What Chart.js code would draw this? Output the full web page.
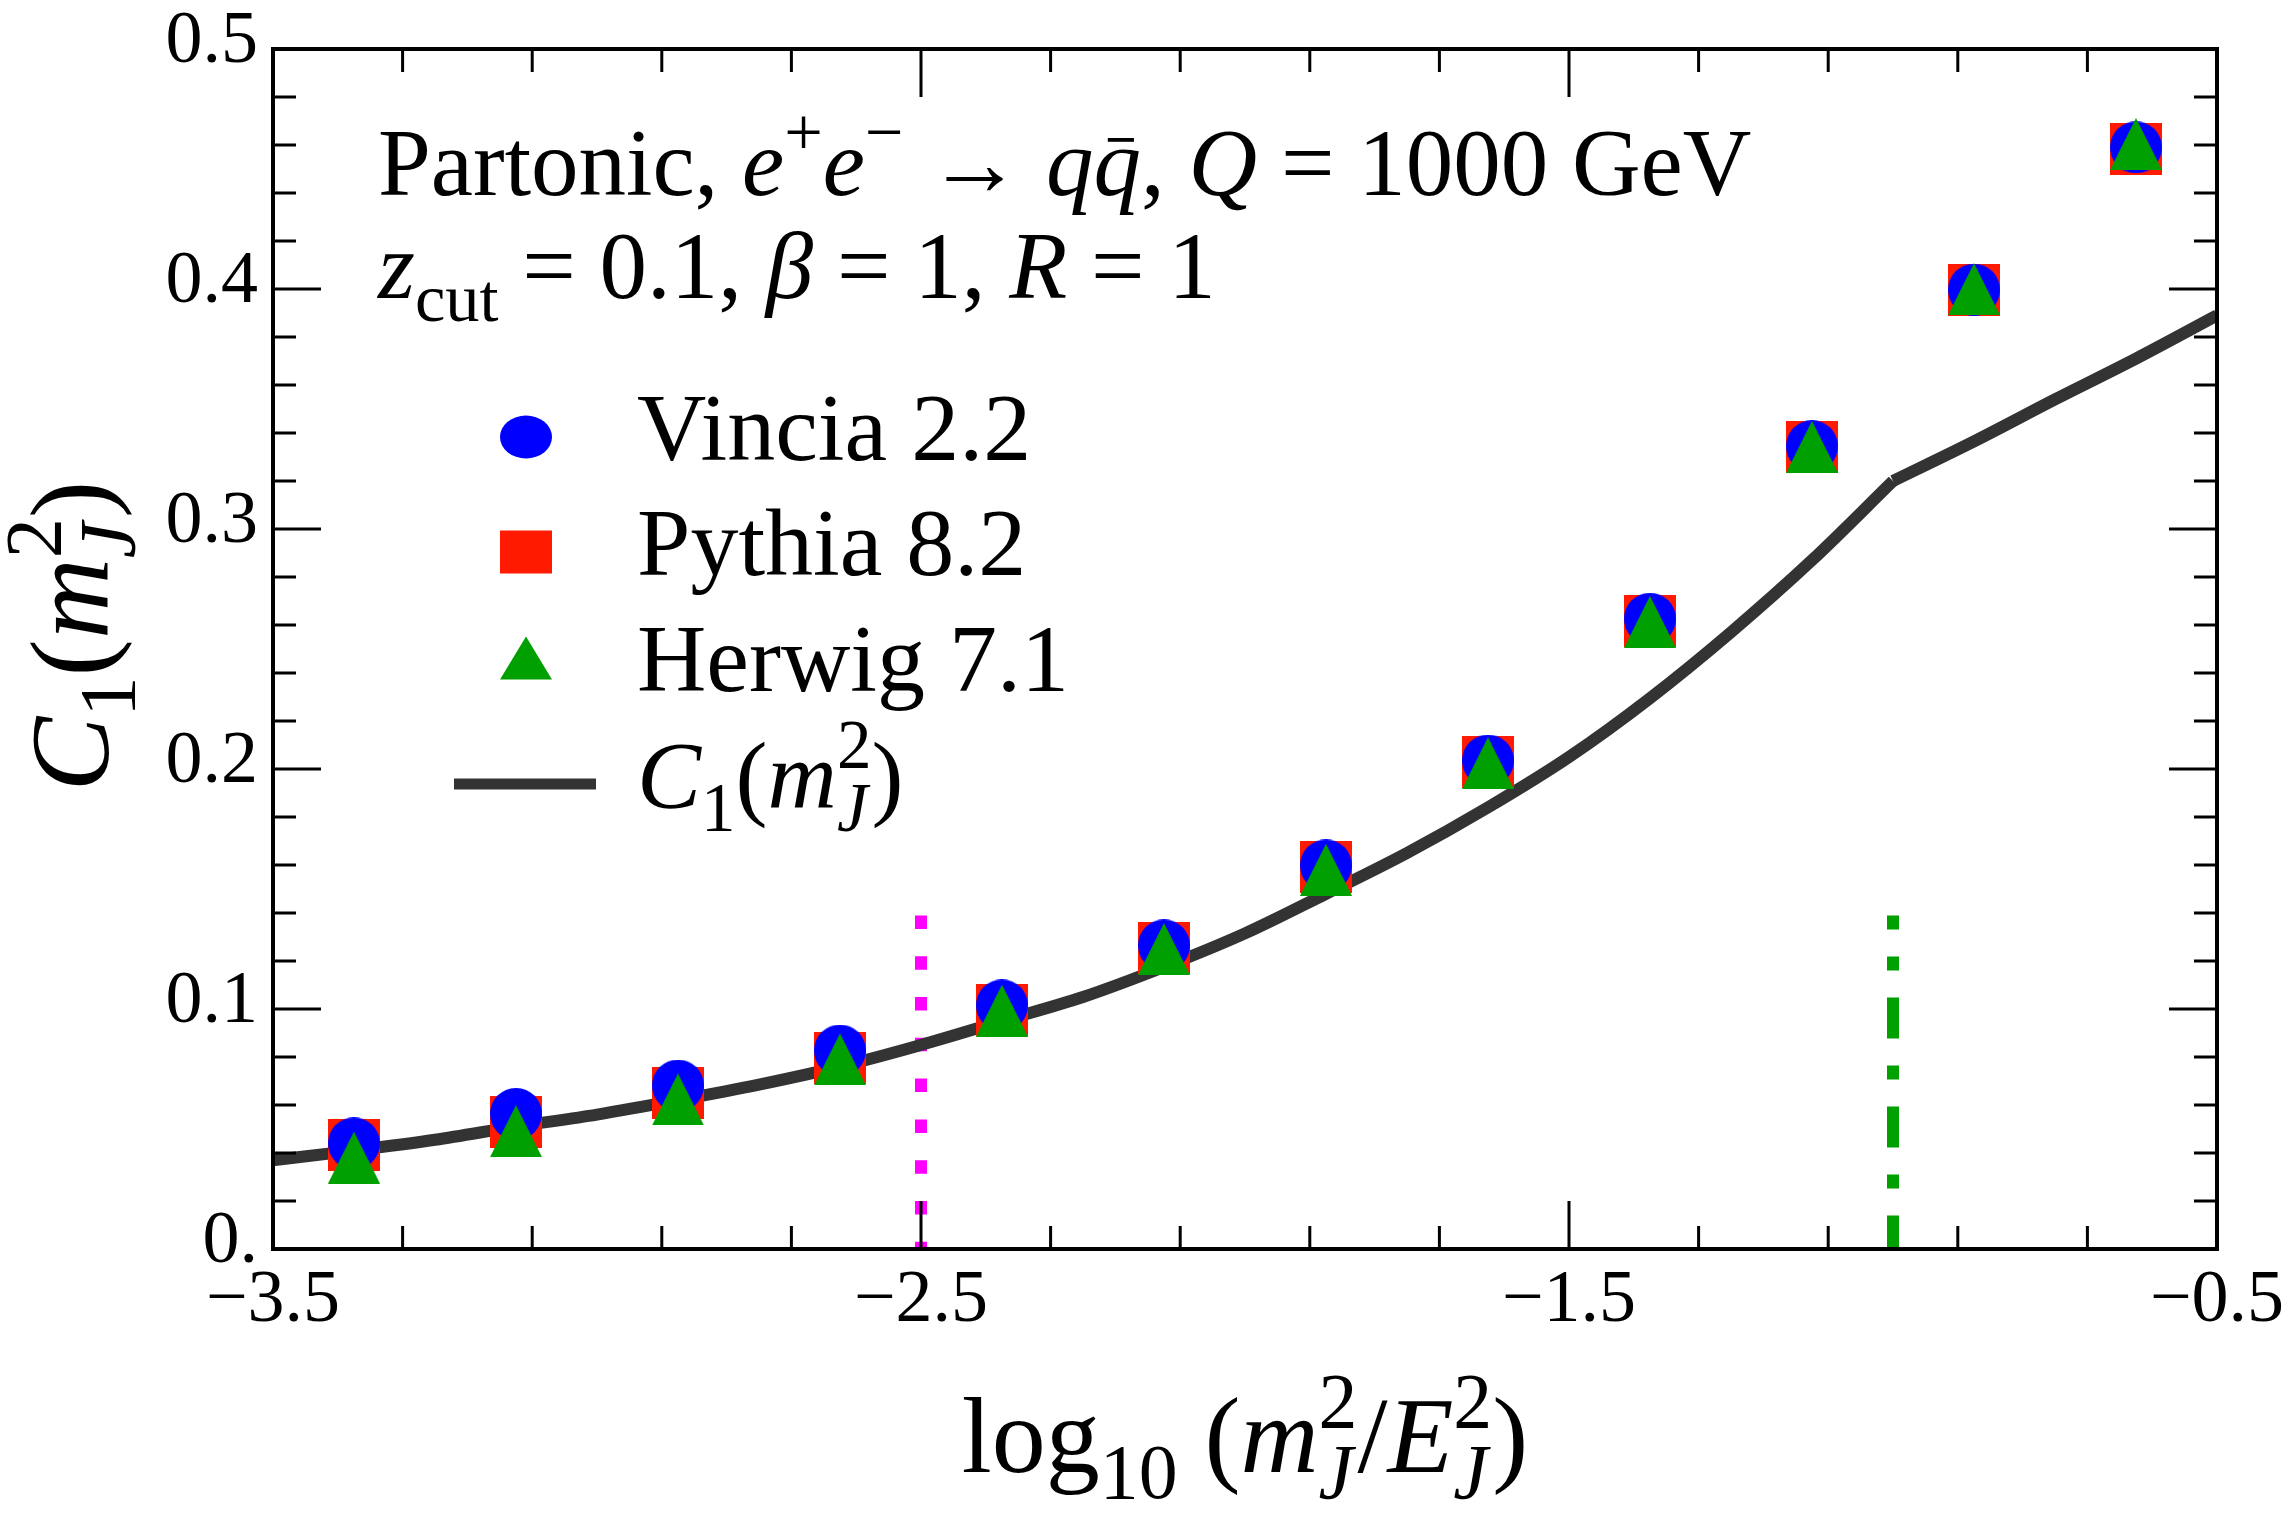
<!DOCTYPE html>
<html lang="en">
<head>
  <meta charset="UTF-8" />
  <title>C1(m_J^2) vs log10(m_J^2/E_J^2)</title>
  <script src="https://cdn.jsdelivr.net/npm/chart.js"></script>
  <style>
    html, body { margin: 0; padding: 0; background: #fff; }
    #wrap { width: 2292px; height: 1515px; }
  </style>
</head>
<body>
  <div id="wrap"><canvas id="c1Chart" width="2292" height="1515"></canvas></div>

  <script>
    // bin centres on the x axis
    const binX = [-3.375, -3.125, -2.875, -2.625, -2.375, -2.125, -1.875, -1.625, -1.375, -1.125, -0.875, -0.625];

    // MC extractions of C1
    const vinciaC1 = [0.0440, 0.0563, 0.0681, 0.0827, 0.1015, 0.1265, 0.1598, 0.2035, 0.2626, 0.3345, 0.3997, 0.4590];
    const pythiaC1 = [0.0433, 0.0531, 0.0649, 0.0795, 0.0996, 0.1254, 0.1590, 0.2029, 0.2618, 0.3342, 0.3994, 0.4583];
    const herwigC1 = [0.0381, 0.0491, 0.0623, 0.0790, 0.0993, 0.1250, 0.1580, 0.2024, 0.2613, 0.3342, 0.3999, 0.4604];

    // analytic C1 curve
    const curveX  = [-3.5, -3.375, -3.25, -3.125, -3.0, -2.875, -2.75, -2.625, -2.5, -2.375, -2.25, -2.125, -2.0,
                     -1.875, -1.75, -1.625, -1.5, -1.375, -1.25, -1.125, -1.0, -0.875, -0.75, -0.625, -0.5];
    const curveC1 = [0.0370, 0.0410, 0.0455, 0.0510, 0.0560, 0.0620, 0.0685, 0.0760, 0.0850, 0.0950, 0.1050, 0.1175, 0.1315,
                     0.1480, 0.1650, 0.1840, 0.2050, 0.2295, 0.2570, 0.2870, 0.3200, 0.3365, 0.3540, 0.3710, 0.3890];
    const kinkX = -1.0;

    // vertical markers (magenta dotted, green dot-dashed)
    const cutLineX = [-2.5, -1.0];
    const cutLineTop = 0.139;

    const xMajorTicks = [-3.5, -2.5, -1.5, -0.5];
    const yMajorTicks = [0, 0.1, 0.2, 0.3, 0.4, 0.5];

    const SERIF = '"Liberation Serif", "Times New Roman", serif';
    const BLUE = '#0000ff', RED = '#ff1a00', GREEN = '#00a000', MAGENTA = '#ff00ff', DARK = '#333333';

    function isMajor(v, list) { return list.some(m => Math.abs(m - v) < 1e-6); }

    function paintMarker(ctx, kind, cx, cy, w, h, color) {
      ctx.fillStyle = color;
      ctx.beginPath();
      if (kind === 'circle') ctx.ellipse(cx, cy, w / 2, h / 2, 0, 0, Math.PI * 2);
      else if (kind === 'square') ctx.rect(cx - w / 2, cy - h / 2, w, h);
      else { ctx.moveTo(cx, cy - h / 2); ctx.lineTo(cx + w / 2, cy + h / 2); ctx.lineTo(cx - w / 2, cy + h / 2); ctx.closePath(); }
      ctx.fill();
    }

    function markerCanvas(kind, color) {
      const c = document.createElement('canvas');
      c.width = 52; c.height = 52;
      paintMarker(c.getContext('2d'), kind, 26, 26, 52, 52, color);
      return c;
    }

    function fontStr(f, size) { return (f === 'i' ? 'italic ' : '') + size + 'px ' + SERIF; }

    // segments: [text, 'r'|'i', 'n'|'sup'|'sub', stackOnPrevious, bar]
    function drawRich(ctx, segs, x, y, size, align) {
      let cx = 0, lastStart = 0, lastW = 0;
      const placed = [];
      segs.forEach(([t, f, pos, stack, bar]) => {
        const sz = pos === 'n' ? size : size * 0.72;
        ctx.font = fontStr(f, sz);
        const w = ctx.measureText(t).width;
        let sx;
        if (stack) { sx = lastStart; cx = Math.max(lastStart + lastW, sx + w); }
        else { sx = cx; cx += w; }
        const dy = pos === 'sup' ? -0.42 * size : pos === 'sub' ? 0.24 * size : 0;
        placed.push({ t, f, sz, sx, dy, w, bar });
        lastStart = sx; lastW = w;
      });
      const ox = align === 'center' ? x - cx / 2 : x;
      ctx.fillStyle = '#000';
      ctx.textAlign = 'left';
      ctx.textBaseline = 'alphabetic';
      placed.forEach(p => {
        ctx.font = fontStr(p.f, p.sz);
        ctx.fillText(p.t, ox + p.sx, y + p.dy);
        if (p.bar) {
          ctx.fillRect(ox + p.sx + p.w * 0.3, y - p.sz * 0.6, p.w * 0.55, p.sz * 0.04);
        }
      });
      return cx;
    }

    const frameAndTicks = {
      id: 'frameAndTicks',
      afterDatasetsDraw(chart) {
        const { ctx, chartArea: a, scales: { x, y } } = chart;
        ctx.save();
        ctx.strokeStyle = '#000';
        ctx.lineWidth = 3;
        ctx.beginPath();
        x.ticks.forEach(t => {
          const px = x.getPixelForValue(t.value);
          const len = isMajor(t.value, xMajorTicks) ? 48 : 23;
          ctx.moveTo(px, a.bottom); ctx.lineTo(px, a.bottom - len);
          ctx.moveTo(px, a.top); ctx.lineTo(px, a.top + len);
        });
        y.ticks.forEach(t => {
          const py = y.getPixelForValue(t.value);
          const len = isMajor(t.value, yMajorTicks) ? 48 : 23;
          ctx.moveTo(a.left, py); ctx.lineTo(a.left + len, py);
          ctx.moveTo(a.right, py); ctx.lineTo(a.right - len, py);
        });
        ctx.stroke();
        ctx.lineWidth = 4;
        ctx.strokeRect(a.left, a.top, a.right - a.left, a.bottom - a.top);
        ctx.restore();
      },
      afterDraw(chart) {
        const { ctx, chartArea: a } = chart;
        ctx.save();
        // axis titles
        drawRich(ctx, [['log', 'r', 'n'], ['10', 'r', 'sub'], [' (', 'r', 'n'], ['m', 'i', 'n'], ['2', 'r', 'sup'], ['J', 'i', 'sub', true],
                       ['/', 'r', 'n'], ['E', 'i', 'n'], ['2', 'r', 'sup'], ['J', 'i', 'sub', true], [')', 'r', 'n']],
                 (a.left + a.right) / 2, 1472, 108, 'center');
        ctx.save();
        ctx.translate(108, 636);
        ctx.rotate(-Math.PI / 2);
        drawRich(ctx, [['C', 'i', 'n'], ['1', 'r', 'sub'], ['(', 'r', 'n'], ['m', 'i', 'n'], ['2', 'r', 'sup'], ['J', 'i', 'sub', true], [')', 'r', 'n']],
                 0, 0, 112, 'center');
        ctx.restore();

        // annotation
        const tx = a.left + 105;
        drawRich(ctx, [['Partonic, ', 'r', 'n'], ['e', 'i', 'n'], ['+', 'r', 'sup'], ['e', 'i', 'n'], ['\u2212', 'r', 'sup'],
                       [' \u2192 ', 'r', 'n'], ['q', 'i', 'n'], ['q', 'i', 'n', false, true], [', ', 'r', 'n'], ['Q', 'i', 'n'],
                       [' = 1000 GeV', 'r', 'n']], tx, 195, 95, 'left');
        drawRich(ctx, [['z', 'i', 'n'], ['cut', 'r', 'sub'], [' = 0.1, ', 'r', 'n'], ['\u03b2', 'i', 'n'], [' = 1, ', 'r', 'n'],
                       ['R', 'i', 'n'], [' = 1', 'r', 'n']], tx, 298, 95, 'left');

        // legend
        const mx = a.left + 253, lx = a.left + 364;
        paintMarker(ctx, 'circle', mx, 437, 52, 43, BLUE);
        paintMarker(ctx, 'square', mx, 552, 52, 43, RED);
        paintMarker(ctx, 'triangle', mx, 658, 52, 43, GREEN);
        ctx.fillStyle = DARK;
        ctx.fillRect(a.left + 181, 784 - 5.5, 142, 11);
        drawRich(ctx, [['Vincia 2.2', 'r', 'n']], lx, 460, 96, 'left');
        drawRich(ctx, [['Pythia 8.2', 'r', 'n']], lx, 575, 96, 'left');
        drawRich(ctx, [['Herwig 7.1', 'r', 'n']], lx, 691, 96, 'left');
        drawRich(ctx, [['C', 'i', 'n'], ['1', 'r', 'sub'], ['(', 'r', 'n'], ['m', 'i', 'n'], ['2', 'r', 'sup'], ['J', 'i', 'sub', true], [')', 'r', 'n']],
                 lx, 808, 96, 'left');
        ctx.restore();
      }
    };

    const lowIdx = curveX.map((x, i) => i).filter(i => curveX[i] <= kinkX);
    const highIdx = curveX.map((x, i) => i).filter(i => curveX[i] >= kinkX);
    const pts = (xs, ys) => xs.map((x, i) => ({ x, y: ys[i] }));

    const curveStyle = {
      showLine: true, pointRadius: 0, borderColor: DARK, borderWidth: 12,
      cubicInterpolationMode: 'monotone', clip: 0, order: 3
    };

    new Chart(document.getElementById('c1Chart'), {
      type: 'scatter',
      data: {
        datasets: [
          { label: 'Herwig 7.1', data: pts(binX, herwigC1), pointStyle: markerCanvas('triangle', GREEN), pointRadius: 26, order: 0 },
          { label: 'Vincia 2.2', data: pts(binX, vinciaC1), pointStyle: markerCanvas('circle', BLUE), pointRadius: 26, order: 1 },
          { label: 'Pythia 8.2', data: pts(binX, pythiaC1), pointStyle: markerCanvas('square', RED), pointRadius: 26, order: 2 },
          Object.assign({ label: 'C1', data: lowIdx.map(i => ({ x: curveX[i], y: curveC1[i] })) }, curveStyle),
          Object.assign({ label: 'C1 (above kink)', data: highIdx.map(i => ({ x: curveX[i], y: curveC1[i] })) }, curveStyle),
          { label: 'cut 1', data: [{ x: cutLineX[0], y: cutLineTop }, { x: cutLineX[0], y: 0 }], showLine: true, pointRadius: 0,
            borderColor: MAGENTA, borderWidth: 12, borderDash: [13.5, 27.3], borderCapStyle: 'butt', order: 4 },
          { label: 'cut 2', data: [{ x: cutLineX[1], y: cutLineTop }, { x: cutLineX[1], y: 0 }], showLine: true, pointRadius: 0,
            borderColor: GREEN, borderWidth: 12, borderDash: [41, 27, 14, 27], borderDashOffset: 27, borderCapStyle: 'butt', order: 4 }
        ]
      },
      options: {
        responsive: false,
        animation: false,
        events: [],
        layout: { padding: { top: 49, right: 75, left: 0, bottom: 0 } },
        plugins: { legend: { display: false }, tooltip: { enabled: false } },
        scales: {
          x: {
            type: 'linear', min: -3.5, max: -0.5,
            border: { display: false }, grid: { display: false, drawTicks: false },
            ticks: {
              stepSize: 0.2, autoSkip: false, maxRotation: 0, minRotation: 0, padding: 8,
              color: '#000', font: { family: SERIF, size: 74 },
              callback: v => isMajor(v, xMajorTicks) ? '\u2212' + Math.abs(v).toFixed(1) : ''
            },
            afterFit(s) { s.height = 266; s.paddingLeft = 0; s.paddingRight = 0; }
          },
          y: {
            min: 0, max: 0.5,
            border: { display: false }, grid: { display: false, drawTicks: false },
            ticks: {
              stepSize: 0.02, autoSkip: false, padding: 15, labelOffset: -6,
              color: '#000', font: { family: SERIF, size: 74 },
              callback: v => isMajor(v, yMajorTicks) ? (Math.abs(v) < 1e-9 ? '0.' : v.toFixed(1)) : ''
            },
            afterFit(s) { s.width = 273; s.paddingTop = 0; s.paddingBottom = 0; }
          }
        }
      },
      plugins: [frameAndTicks]
    });
  </script>
</body>
</html>
